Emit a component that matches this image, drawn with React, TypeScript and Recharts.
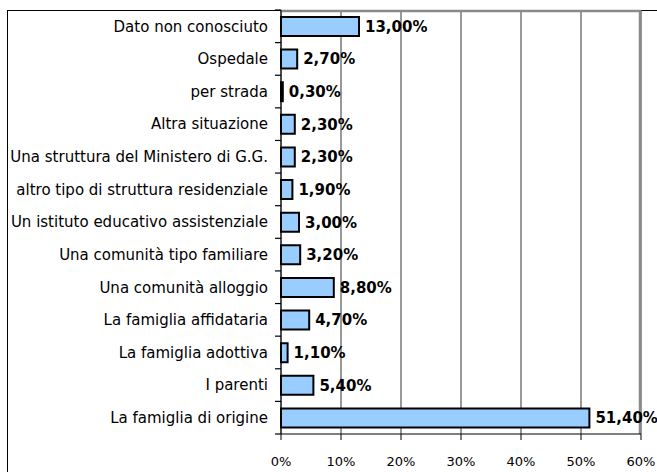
import React from 'react'
import { BarChart, Bar, XAxis, YAxis, CartesianGrid, LabelList } from 'recharts'

// Categories top to bottom, as in the reference
const categories = [
  'Dato non conosciuto',
  'Ospedale',
  'per strada',
  'Altra situazione',
  'Una struttura del Ministero di G.G.',
  'altro tipo di struttura residenziale',
  'Un istituto educativo assistenziale',
  'Una comunità tipo familiare',
  'Una comunità alloggio',
  'La famiglia affidataria',
  'La famiglia adottiva',
  'I parenti',
  'La famiglia di origine',
]

const percentages = [13.0, 2.7, 0.3, 2.3, 2.3, 1.9, 3.0, 3.2, 8.8, 4.7, 1.1, 5.4, 51.4]

const xTicks = [0, 10, 20, 30, 40, 50, 60]

const chartData = categories.map((name, i) => ({ name, value: percentages[i] }))

const font = '"DejaVu Sans", sans-serif'
const TICK_MARGIN = 13

const formatValue = (v: any) => Number(v).toFixed(2).replace('.', ',') + '%'

// Excel puts the category tick marks between the bars, not on them
const CategoryTick = (props: any) => {
  const { x, y, payload, index, visibleTicksCount, height } = props
  const axisX = x + TICK_MARGIN
  const half = height && visibleTicksCount ? height / visibleTicksCount / 2 : payload.offset || 0
  const last = index === visibleTicksCount - 1
  return (
    <g>
      <text x={x} y={y} dy="0.355em" textAnchor="end" fill="#000" fontSize={15} fontFamily={font}>
        {payload.value}
      </text>
      <line x1={axisX - 6} x2={axisX} y1={y - half} y2={y - half} stroke="#000" strokeWidth={1.2} />
      {last && <line x1={axisX - 6} x2={axisX} y1={y + half} y2={y + half} stroke="#000" strokeWidth={1.2} />}
    </g>
  )
}

export default function App() {
  return (
    <div style={{ position: 'absolute', left: 0, top: 0, width: 657, height: 472, overflow: 'hidden', background: '#fff' }}>
      <div
        style={{
          position: 'absolute',
          left: 7,
          top: 10,
          width: 700,
          height: 520,
          border: '1px solid #000',
        }}
      />
      <div style={{ position: 'absolute', left: 0, top: 0 }}>
        <BarChart
          width={657}
          height={472}
          data={chartData}
          layout="vertical"
          margin={{ top: 10, right: 16, bottom: 0, left: 0 }}
          barSize={19}
        >
          <CartesianGrid horizontal={false} stroke="#333" strokeWidth={1} />
          <CartesianGrid horizontalPoints={[11]} verticalPoints={[640]} stroke="#8a8a8a" strokeWidth={2.5} />
          <XAxis
            type="number"
            domain={[0, 60]}
            ticks={xTicks}
            tickFormatter={(v) => v + '%'}
            stroke="#000"
            tickSize={6}
            tickMargin={17}
            height={38}
            tick={{ fill: '#000', fontSize: 13, fontFamily: font }}
            interval={0}
          />
          <YAxis
            type="category"
            dataKey="name"
            width={281}
            stroke="#000"
            tickLine={false}
            tickSize={0}
            tickMargin={TICK_MARGIN}
            interval={0}
            tick={<CategoryTick />}
          />
          <Bar dataKey="value" fill="#99ccff" stroke="#000" strokeWidth={2} isAnimationActive={false}>
            <LabelList
              dataKey="value"
              position="right"
              offset={6}
              formatter={formatValue}
              style={{ fill: '#000', fontSize: 15, fontWeight: 'bold', fontFamily: font }}
            />
          </Bar>
        </BarChart>
      </div>
    </div>
  )
}
